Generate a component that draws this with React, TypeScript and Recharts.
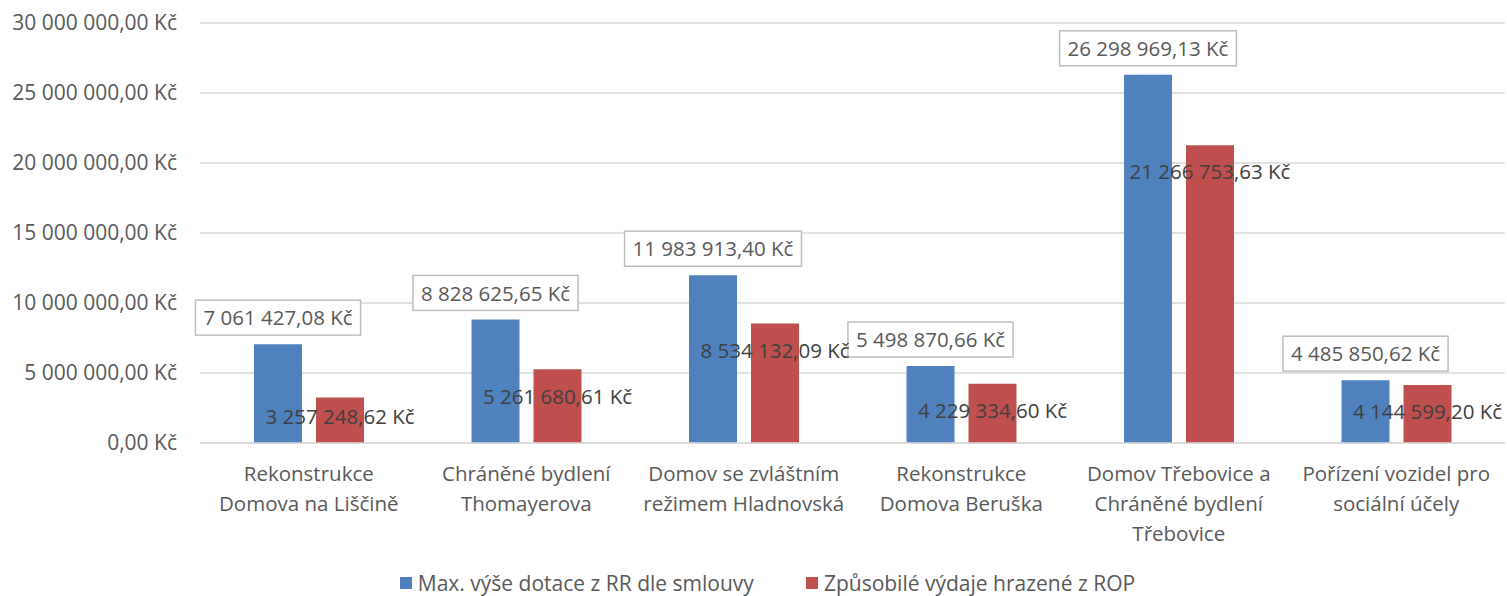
import { Bar, BarChart, CartesianGrid, LabelList, Legend, XAxis, YAxis } from "recharts"

const categories = [
  "Rekonstrukce\nDomova na Liščině",
  "Chráněné bydlení\nThomayerova",
  "Domov se zvláštním\nrežimem Hladnovská",
  "Rekonstrukce\nDomova Beruška",
  "Domov Třebovice a\nChráněné bydlení\nTřebovice",
  "Pořízení vozidel pro\nsociální účely",
]
const maxDotace = [7061427.08, 8828625.65, 11983913.4, 5498870.66, 26298969.13, 4485850.62]
const zpusobile = [3257248.62, 5261680.61, 8534132.09, 4229334.6, 21266753.63, 4144599.2]
const yTicks = [0, 5000000, 10000000, 15000000, 20000000, 25000000, 30000000]
const seriesNames = ["Max. výše dotace z RR dle smlouvy", "Způsobilé výdaje hrazené z ROP"]

const BLUE = "#4f81bd"
const RED = "#c0504d"
const FONT = "'Open Sans', sans-serif"
const LABEL_SIZE = 20.5

const data = categories.map((name, i) => ({ name, max: maxDotace[i], zp: zpusobile[i] }))

function kc(v: number) {
  const [int, dec] = Math.abs(v).toFixed(2).split(".")
  return int.replace(/\B(?=(\d{3})+(?!\d))/g, " ") + "," + dec + " Kč"
}

function textWidth(s: string, size: number) {
  const ctx = document.createElement("canvas").getContext("2d")
  if (!ctx) return s.length * size * 0.52
  ctx.font = `${size}px 'Open Sans'`
  return ctx.measureText(s).width
}

function BoxLabel(props: any) {
  const { x, y, width, value } = props
  const s = kc(value)
  const w = textWidth(s, LABEL_SIZE) + 16
  const cx = x + width / 2
  return (
    <g>
      <rect x={cx - w / 2} y={y - 44} width={w} height={35} fill="#fff" stroke="#bfbfbf" strokeWidth={1.5} />
      <text x={cx} y={y - 26} dy="0.35em" textAnchor="middle" fontSize={LABEL_SIZE} fill="#595959" fontFamily={FONT}>{s}</text>
    </g>
  )
}

function InsideLabel(props: any) {
  const { x, y, width, height, value } = props
  const cy = Math.min(y + 27, y + height - 26)
  return (
    <text x={x + width / 2} y={cy} dy="0.35em" textAnchor="middle" fontSize={LABEL_SIZE} fill="#404040" fontFamily={FONT}>{kc(value)}</text>
  )
}

function CategoryTick({ x, y, payload }: any) {
  const lines = String(payload.value).split("\n")
  return (
    <text x={x} y={y + 30} textAnchor="middle" fontSize={LABEL_SIZE} fill="#595959" fontFamily={FONT}>
      {lines.map((l, i) => <tspan key={i} x={x} dy={i === 0 ? 0 : 30}>{l}</tspan>)}
    </text>
  )
}

function LegendBox() {
  const colors = [BLUE, RED]
  return (
    <div style={{ display: "flex", justifyContent: "center", gap: 52, fontFamily: FONT, fontSize: 21, color: "#595959", marginLeft: 30, paddingTop: 16 }}>
      {seriesNames.map((n, i) => (
        <div key={n} style={{ display: "flex", alignItems: "center" }}>
          <span style={{ width: 12, height: 12, background: colors[i], marginRight: 6, display: "inline-block" }} />
          {n}
        </div>
      ))}
    </div>
  )
}

export default function App() {
  return (
    <div style={{ position: "absolute", left: 0, top: 0, background: "#fff" }}>
      <BarChart width={1507} height={596} data={data} margin={{ top: 23, right: 2, left: 0, bottom: 0 }} barSize={48} barGap={14}>
        <CartesianGrid vertical={false} stroke="#d9d9d9" strokeWidth={1.5} />
        <XAxis dataKey="name" height={110} tickLine={false} axisLine={{ stroke: "#d9d9d9", strokeWidth: 1.5 }} tick={<CategoryTick />} interval={0} />
        <YAxis width={200} domain={[0, 30000000]} ticks={yTicks} tickFormatter={kc} tickSize={0} tickMargin={23} axisLine={false}
          tick={{ fontSize: 21, fill: "#595959", fontFamily: FONT }} />
        <Legend verticalAlign="bottom" height={43} content={<LegendBox />} />
        <Bar dataKey="max" name={seriesNames[0]} fill={BLUE} isAnimationActive={false}>
          <LabelList dataKey="max" content={<BoxLabel />} />
        </Bar>
        <Bar dataKey="zp" name={seriesNames[1]} fill={RED} isAnimationActive={false}>
          <LabelList dataKey="zp" content={<InsideLabel />} />
        </Bar>
      </BarChart>
    </div>
  )
}
